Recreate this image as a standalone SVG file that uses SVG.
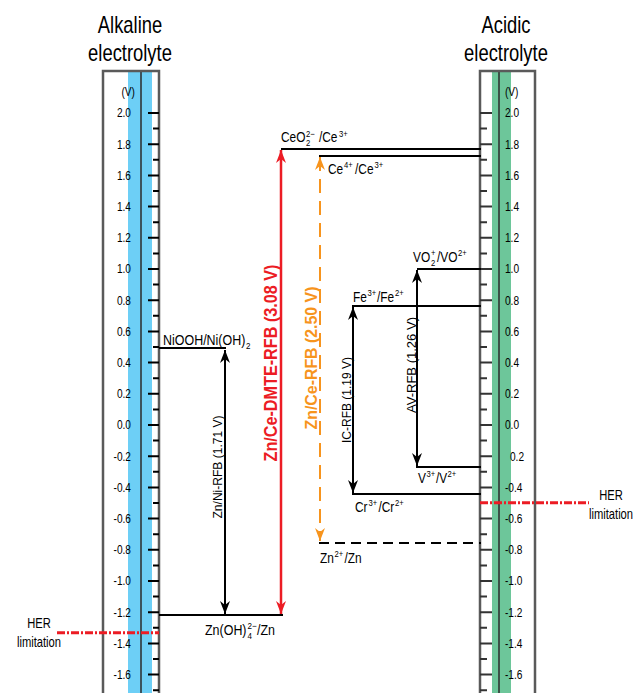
<svg xmlns="http://www.w3.org/2000/svg" width="636" height="693" viewBox="0 0 636 693">
<style>
text{font-family:"Liberation Sans",Arial,sans-serif;fill:#000}
.hd{font-size:23px;text-anchor:middle}
.sc{font-size:13.5px}
.scl{text-anchor:end}
.lb{font-size:14px}
.sp{font-size:9px}
.her{font-size:14px;text-anchor:middle}
.rot{text-anchor:middle}
.box{fill:none;stroke:#5a5a5a;stroke-width:2.5}
.lvl{stroke:#000;stroke-width:2.2;fill:none}
.arr{stroke:#000;stroke-width:2;fill:none}
</style>
<defs>
<marker id="ak" viewBox="-14 -6 15 12" refX="0" refY="0" markerWidth="15" markerHeight="12" markerUnits="userSpaceOnUse" orient="auto-start-reverse"><path d="M0,0 L-13,-5 L-9,0 L-13,5 Z" fill="#000"/></marker>
<marker id="ar" viewBox="-14 -6 15 12" refX="0" refY="0" markerWidth="15" markerHeight="12" markerUnits="userSpaceOnUse" orient="auto-start-reverse"><path d="M0,0 L-13,-5 L-9,0 L-13,5 Z" fill="#ec1c24"/></marker>
<marker id="ao" viewBox="-14 -6 15 12" refX="0" refY="0" markerWidth="15" markerHeight="12" markerUnits="userSpaceOnUse" orient="auto-start-reverse"><path d="M0,0 L-13,-5 L-9,0 L-13,5 Z" fill="#f7941d"/></marker>
</defs>

<g id="alkaline-scale">
<rect x="128" y="71" width="24" height="630" fill="#6dcff6"/>
<line x1="141" y1="71" x2="141" y2="700" stroke="#2b2b2b" stroke-width="1.5"/>
<path class="box" d="M103,700 V71 H159 V700"/>
<path stroke="#000" stroke-width="2" d="M148 113h11M148 144.2h11M148 175.4h11M148 206.6h11M148 237.8h11M148 269h11M148 300.2h11M148 331.4h11M148 362.6h11M148 393.8h11M148 425h11M148 456.2h11M148 487.4h11M148 518.6h11M148 549.8h11M148 581h11M148 612.2h11M148 643.4h11M148 674.6h11M153 128.6h6M153 159.8h6M153 191h6M153 222.2h6M153 253.4h6M153 284.6h6M153 315.8h6M153 347h6M153 378.2h6M153 409.4h6M153 440.6h6M153 471.8h6M153 503h6M153 534.2h6M153 565.4h6M153 596.6h6M153 627.8h6M153 659h6M153 690.2h6"/>
<g transform="scale(0.8,1)">
<text class="hd" x="162.5" y="33">Alkaline</text>
<text class="hd" x="162.5" y="61">electrolyte</text>
</g>
<g class="sc scl" transform="scale(0.75,1)">
<text x="180" y="96">(V)</text>
<text x="174.67" y="117.5">2.0</text>
<text x="174.67" y="148.7">1.8</text>
<text x="174.67" y="179.9">1.6</text>
<text x="174.67" y="211.1">1.4</text>
<text x="174.67" y="242.3">1.2</text>
<text x="174.67" y="273.5">1.0</text>
<text x="174.67" y="304.7">0.8</text>
<text x="174.67" y="335.9">0.6</text>
<text x="174.67" y="367.1">0.4</text>
<text x="174.67" y="398.3">0.2</text>
<text x="174.67" y="429.5">0.0</text>
<text x="174.67" y="460.7">-0.2</text>
<text x="174.67" y="491.9">-0.4</text>
<text x="174.67" y="523.1">-0.6</text>
<text x="174.67" y="554.3">-0.8</text>
<text x="174.67" y="585.5">-1.0</text>
<text x="174.67" y="616.7">-1.2</text>
<text x="174.67" y="647.9">-1.4</text>
<text x="174.67" y="679.1">-1.6</text>
</g>
</g>

<g id="acidic-scale">
<rect x="492" y="71" width="19" height="630" fill="#6dc69a"/>
<line x1="499" y1="71" x2="499" y2="700" stroke="#2b2b2b" stroke-width="1.5"/>
<path class="box" d="M480,700 V71 H535 V700"/>
<path stroke="#333" stroke-width="2" d="M480 113h12M480 144.2h12M480 175.4h12M480 206.6h12M480 237.8h12M480 269h12M480 300.2h12M480 331.4h12M480 362.6h12M480 393.8h12M480 425h12M480 456.2h12M480 487.4h12M480 518.6h12M480 549.8h12M480 581h12M480 612.2h12M480 643.4h12M480 674.6h12M480 128.6h7M480 159.8h7M480 191h7M480 222.2h7M480 253.4h7M480 284.6h7M480 315.8h7M480 347h7M480 378.2h7M480 409.4h7M480 440.6h7M480 471.8h7M480 503h7M480 534.2h7M480 565.4h7M480 596.6h7M480 627.8h7M480 659h7M480 690.2h7"/>
<g transform="scale(0.8,1)">
<text class="hd" x="632.5" y="33">Acidic</text>
<text class="hd" x="632.5" y="61">electrolyte</text>
</g>
<g class="sc" transform="scale(0.75,1)">
<text x="673.33" y="96">(V)</text>
<text x="673.33" y="117.5">2.0</text>
<text x="673.33" y="148.7">1.8</text>
<text x="673.33" y="179.9">1.6</text>
<text x="673.33" y="211.1">1.4</text>
<text x="673.33" y="242.3">1.2</text>
<text x="673.33" y="273.5">1.0</text>
<text x="673.33" y="304.7">0.8</text>
<text x="673.33" y="335.9">0.6</text>
<text x="673.33" y="367.1">0.4</text>
<text x="673.33" y="398.3">0.2</text>
<text x="673.33" y="429.5">0.0</text>
<text x="680" y="460.7">0.2</text>
<text x="673.33" y="491.9">-0.4</text>
<text x="673.33" y="523.1">-0.6</text>
<text x="673.33" y="554.3">-0.8</text>
<text x="673.33" y="585.5">-1.0</text>
<text x="673.33" y="616.7">-1.2</text>
<text x="673.33" y="647.9">-1.4</text>
<text x="673.33" y="679.1">-1.6</text>
</g>
</g>

<g id="her-left">
<line x1="57" y1="632.7" x2="159" y2="632.7" stroke="#ec1c24" stroke-width="3" stroke-dasharray="8 2 2 2"/>
<g transform="scale(0.8,1)">
<text class="her" x="48.75" y="628">HER</text>
<text class="her" x="48.75" y="647">limitation</text>
</g>
</g>
<g id="her-right">
<line x1="480" y1="502.7" x2="589" y2="502.7" stroke="#ec1c24" stroke-width="3" stroke-dasharray="8 2 2 2"/>
<g transform="scale(0.8,1)">
<text class="her" x="763.75" y="500">HER</text>
<text class="her" x="763.75" y="519">limitation</text>
</g>
</g>

<g id="level-nioh">
<line class="lvl" x1="159" y1="348" x2="226" y2="348"/>
<text class="lb" transform="translate(163,345) scale(0.89,1)"><tspan x="0" y="0">NiOOH/Ni(OH)</tspan><tspan class="sp" x="93.3" y="4">2</tspan></text>
</g>
<g id="level-znoh">
<line class="lvl" x1="159" y1="615" x2="283" y2="615" stroke-width="2.8"/>
<text class="lb" transform="translate(205,635) scale(0.89,1)"><tspan x="0" y="0">Zn(OH)</tspan><tspan class="sp" x="47.8" y="-6">2−</tspan><tspan class="sp" x="47.8" y="4">4</tspan><tspan x="58.4" y="0">/Zn</tspan></text>
</g>
<g id="level-ceo2">
<line class="lvl" x1="281" y1="149" x2="481" y2="149"/>
<text class="lb" transform="translate(281,142) scale(0.85,1)"><tspan x="0" y="0">CeO</tspan><tspan class="sp" x="29.4" y="-5">2−</tspan><tspan class="sp" x="29.4" y="4">2</tspan><tspan x="44.7" y="0">/Ce</tspan><tspan class="sp" x="68.2" y="-5">3+</tspan></text>
</g>
<g id="level-ce4">
<line class="lvl" x1="319" y1="156" x2="481" y2="156"/>
<text class="lb" transform="translate(328,174) scale(0.85,1)"><tspan x="0" y="0">Ce</tspan><tspan class="sp" x="18.8" y="-6">4+</tspan><tspan x="31.8" y="0">/Ce</tspan><tspan class="sp" x="54.7" y="-6">3+</tspan></text>
</g>
<g id="level-vo2">
<line class="lvl" x1="417" y1="269" x2="481" y2="269" stroke-width="2.6"/>
<text class="lb" transform="translate(413,262) scale(0.85,1)"><tspan x="0" y="0">VO</tspan><tspan class="sp" x="21.2" y="-6">+</tspan><tspan class="sp" x="21.2" y="4">2</tspan><tspan x="28.2" y="0">/VO</tspan><tspan class="sp" x="52.9" y="-6">2+</tspan></text>
</g>
<g id="level-fe">
<line class="lvl" x1="352" y1="306" x2="481" y2="306" stroke-width="1.8"/>
<text class="lb" transform="translate(353,302) scale(0.85,1)"><tspan x="0" y="0">Fe</tspan><tspan class="sp" x="17.1" y="-6">3+</tspan><tspan x="28.2" y="0">/Fe</tspan><tspan class="sp" x="49.4" y="-6">2+</tspan></text>
</g>
<g id="level-v">
<line class="lvl" x1="416" y1="467" x2="481" y2="467" stroke-width="2.6"/>
<text class="lb" transform="translate(418,483) scale(0.85,1)"><tspan x="0" y="0">V</tspan><tspan class="sp" x="10" y="-6">3+</tspan><tspan x="21.2" y="0">/V</tspan><tspan class="sp" x="34.7" y="-6">2+</tspan></text>
</g>
<g id="level-cr">
<line class="lvl" x1="352" y1="494" x2="481" y2="494" stroke-width="2.6"/>
<text class="lb" transform="translate(355,512) scale(0.85,1)"><tspan x="0" y="0">Cr</tspan><tspan class="sp" x="15.9" y="-6">3+</tspan><tspan x="27.6" y="0">/Cr</tspan><tspan class="sp" x="47.1" y="-6">2+</tspan></text>
</g>
<g id="level-zn">
<line class="lvl" x1="319" y1="543" x2="481" y2="543" stroke-width="3" stroke-dasharray="10 6"/>
<text class="lb" transform="translate(320,563) scale(0.85,1)"><tspan x="0" y="0">Zn</tspan><tspan class="sp" x="17.1" y="-6">2+</tspan><tspan x="28.8" y="0">/Zn</tspan></text>
</g>

<g id="connectors">
<line class="arr" x1="225" y1="350" x2="225" y2="614" marker-start="url(#ak)" marker-end="url(#ak)"/>
<line x1="281" y1="150" x2="281" y2="614" stroke="#ec1c24" stroke-width="2.5" marker-start="url(#ar)" marker-end="url(#ar)"/>
<line x1="320" y1="157" x2="320" y2="541" stroke="#f7941d" stroke-width="2" stroke-dasharray="14 8" marker-start="url(#ao)" marker-end="url(#ao)"/>
<line class="arr" x1="353" y1="307" x2="353" y2="493" marker-start="url(#ak)" marker-end="url(#ak)"/>
<line class="arr" x1="417" y1="270" x2="417" y2="466" marker-start="url(#ak)" marker-end="url(#ak)"/>
</g>

<g id="labels-batteries">
<text class="rot" font-size="12.5" transform="translate(221.5,467) rotate(-90)" textLength="103" lengthAdjust="spacingAndGlyphs">Zn/Ni-RFB (1.71 V)</text>
<text class="rot" font-size="19" font-weight="bold" style="fill:#ec1c24" transform="translate(276.5,363) rotate(-90)" textLength="197" lengthAdjust="spacingAndGlyphs">Zn/Ce-DMTE-RFB (3.08 V)</text>
<text class="rot" font-size="17" font-weight="bold" style="fill:#f7941d" transform="translate(316.5,358) rotate(-90)" textLength="143" lengthAdjust="spacingAndGlyphs">Zn/Ce-RFB (2.50 V)</text>
<text class="rot" font-size="12.5" transform="translate(350.5,400) rotate(-90)" textLength="86" lengthAdjust="spacingAndGlyphs">IC-RFB (1.19 V)</text>
<text class="rot" font-size="12.5" transform="translate(415.5,365) rotate(-90)" textLength="96" lengthAdjust="spacingAndGlyphs">AV-RFB (1.26 V)</text>
</g>
</svg>
